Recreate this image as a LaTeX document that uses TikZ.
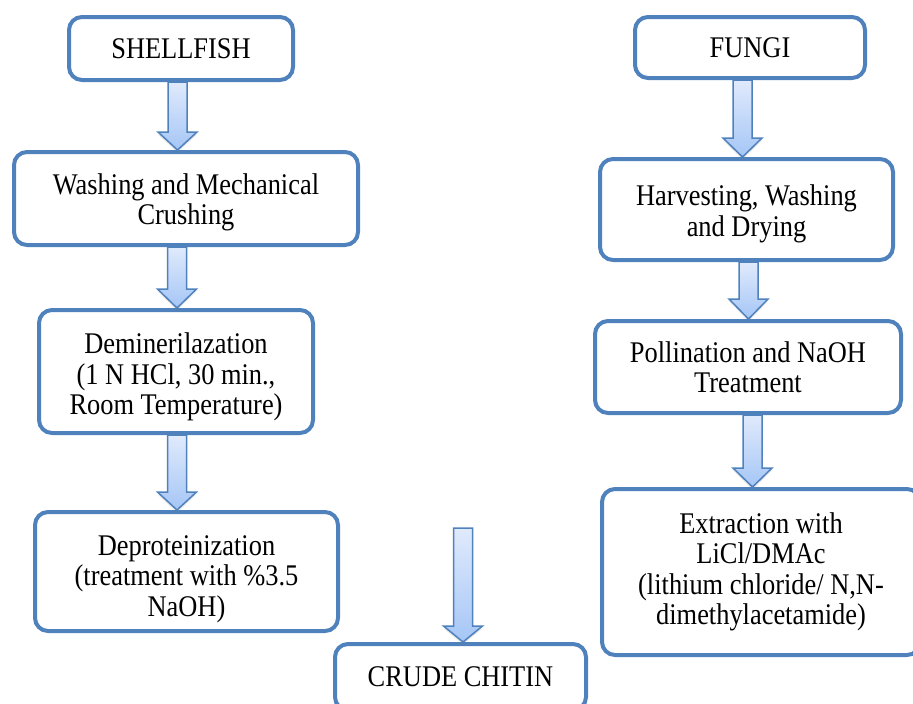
\documentclass[tikz,border=0pt]{standalone}
\usepackage{fontspec}
\setmainfont{Liberation Serif}[FakeStretch=0.88]
\usetikzlibrary{shadows,calc}
\definecolor{boxblue}{RGB}{79,129,189}
\definecolor{arrtop}{RGB}{224,234,252}
\definecolor{arrbot}{RGB}{165,198,246}
\tikzset{
  steptext/.style={align=center, inner sep=0pt, font=\fontsize{30}{30.5}\selectfont},
  stepbox/.style={steptext, draw=boxblue, line width=4pt, rounded corners=13pt, fill=white},
  blockarrow/.style={draw=boxblue, line width=1.5pt, top color=arrtop, bottom color=arrbot,
    line join=miter, drop shadow={shadow xshift=0pt, shadow yshift=-2.5pt, opacity=0.18}}
}
% #1 start point, #2 end point, #3 x of the arrow axis, #4 head length
\newcommand\flowarrow[4]{%
  \shadedraw[blockarrow] let \p1=(#1), \p2=(#2) in
    (#3pt-9.5pt,\y1) -- (#3pt+9.5pt,\y1) -- (#3pt+9.5pt,\y2+#4pt) -- (#3pt+19.5pt,\y2+#4pt)
    -- (#3pt,\y2) -- (#3pt-19.5pt,\y2+#4pt) -- (#3pt-9.5pt,\y2+#4pt) -- cycle;}
\begin{document}
\begin{tikzpicture}[x=1pt,y=-1pt]
\useasboundingbox (0,0) rectangle (913,704);
\clip (0,0) rectangle (913,704);
% left column
\node[stepbox, minimum width=224pt, minimum height=63pt] (shell) at (181,48.5) {SHELLFISH};
\node[stepbox, minimum width=344pt, minimum height=93pt] (wash) at (186,198.5) {};
\node[steptext] (washtxt) at (186,202.5) {Washing and Mechanical\\Crushing};
\node[stepbox, minimum width=274pt, minimum height=123pt] (demin) at (176,371.5) {};
\node[steptext] (demintxt) at (176,377) {Deminerilazation\\(1 N HCl, 30 min.,\\Room Temperature)};
\node[stepbox, minimum width=303pt, minimum height=119pt] (deprot) at (186.5,571.5) {};
\node[steptext] (deprottxt) at (186.5,579) {Deproteinization\\(treatment with \%3.5\\NaOH)};
% centre
\coordinate (ctop) at (463,528);
\node[stepbox, minimum width=251pt, minimum height=66pt] (crude) at (460.5,677) {CRUDE CHITIN};
% right column
\node[stepbox, minimum width=230pt, minimum height=61pt] (fungi) at (750,47.5) {FUNGI};
\node[stepbox, minimum width=293pt, minimum height=101pt] (harv) at (746.5,209.5) {};
\node[steptext] (harvtxt) at (746.5,214) {Harvesting, Washing\\and Drying};
\node[stepbox, minimum width=306pt, minimum height=92pt] (poll) at (748,367) {Pollination and NaOH\\Treatment};
\node[stepbox, minimum width=318pt, minimum height=166pt] (extr) at (761,572) {Extraction with\\LiCl/DMAc\\(lithium chloride/ N,N-\\dimethylacetamide)};
% arrows
\flowarrow{shell.south}{wash.north}{177.5}{18}
\flowarrow{wash.south}{demin.north}{177}{19}
\flowarrow{demin.south}{deprot.north}{177}{18}
\flowarrow{ctop}{crude.north}{463}{16}
\flowarrow{fungi.south}{harv.north}{742.5}{19}
\flowarrow{harv.south}{poll.north}{748.5}{20}
\flowarrow{poll.south}{extr.north}{752.5}{19}
\end{tikzpicture}
\end{document}
